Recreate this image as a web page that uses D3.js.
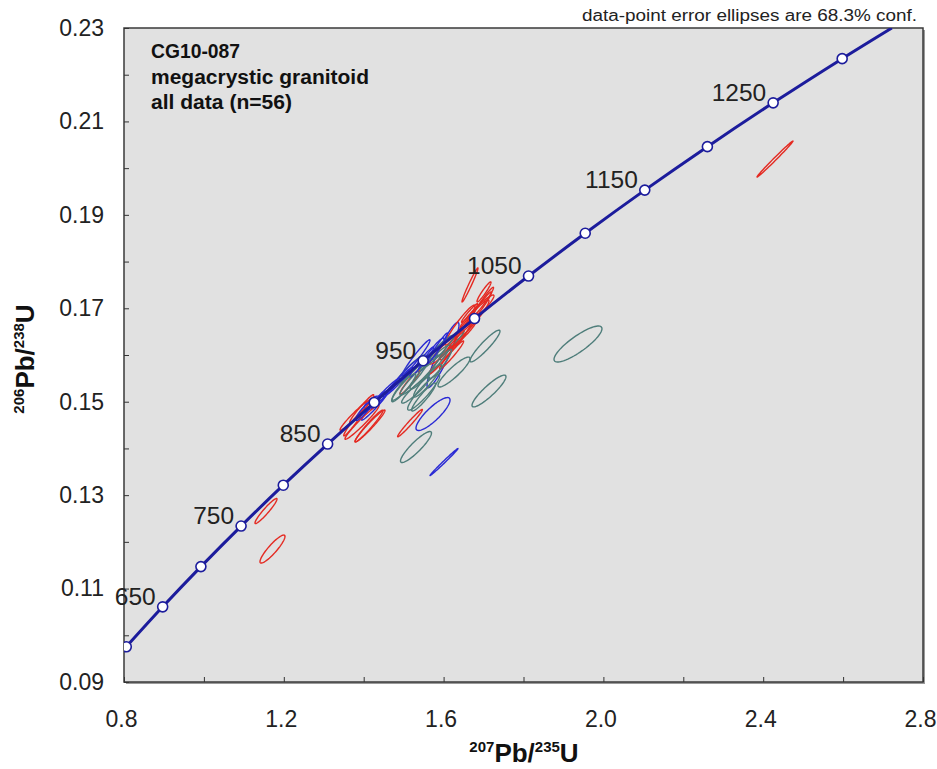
<!DOCTYPE html>
<html><head><meta charset="utf-8">
<script src="https://cdn.jsdelivr.net/npm/d3@7"></script>
<style>
body{margin:0;background:#fff;}
svg{display:block;}
</style></head>
<body>
<svg id="chart" width="937" height="769"></svg>
<script>
// ---------- data ----------
const xTickValues = [0.8,1.0,1.2,1.4,1.6,1.8,2.0,2.2,2.4,2.6,2.8];
const xTickLabels = ["0.8","1.2","1.6","2.0","2.4","2.8"];
const yTickValues = [0.09,0.10,0.11,0.12,0.13,0.14,0.15,0.16,0.17,0.18,0.19,0.20,0.21,0.22,0.23];
const yTickLabels = ["0.09","0.11","0.13","0.15","0.17","0.19","0.21","0.23"];

// concordia age markers (Ma) and their positions
const markerAge = [600,650,700,750,800,850,900,950,1000,1050,1100,1150,1200,1250,1300];
const markerX = [0.8057,0.8968,0.9925,1.0931,1.1987,1.3097,1.4263,1.5488,1.6774,1.8126,1.9545,2.1036,2.2603,2.4249,2.5977];
const markerY = [0.09754,0.10609,0.11470,0.12338,0.13213,0.14094,0.14983,0.15878,0.16780,0.17690,0.18606,0.19530,0.20460,0.21398,0.22344];
const labelAges = [650,750,850,950,1050,1150,1250];
// concordia continues to the top frame
const curveEndX = 2.722, curveEndY = 0.23;

// error ellipses (n=56): group (r = red, b = blue, t = teal), centre, half-widths, correlation
const ellGroup = ["r","t","t","b","t","b","r","t","t","r","r","r",
  "b","b","b","b","b","b",
  "r","r","r","r","r","r","r","r","r","r","r",
  "t","t","t","t","t","t","t",
  "r","r","r","r","r","r",
  "b","b","b","b","b",
  "t","t","t","t",
  "r","r","b","t","r"];
const ellX  = [2.4295,1.9364,1.7136,1.6010,1.5309,1.5735,1.5159,1.6260,1.7036,1.1554,1.1717,1.4133,
  1.4208,1.4258,1.4859,1.5309,1.5685,1.5985,
  1.6661,1.7011,1.6410,1.6711,1.6285,1.6085,1.6836,1.3957,1.4158,1.3782,1.5159,
  1.5159,1.5409,1.5660,1.5159,1.5835,1.6085,1.5500,
  1.6550,1.6900,1.6450,1.7000,1.6200,1.5950,
  1.4550,1.5100,1.5450,1.5850,1.4400,
  1.5600,1.5900,1.5000,1.5300,
  1.3950,1.3750,1.4000,1.5500,1.6650];
const ellY  = [0.20195,0.16235,0.15229,0.13709,0.14030,0.14736,0.14543,0.15635,0.16192,0.12660,0.11846,0.14480,
  0.14970,0.14890,0.15420,0.15940,0.16000,0.16000,
  0.17500,0.17350,0.16640,0.16750,0.16280,0.16170,0.16920,0.14560,0.14480,0.14710,0.15420,
  0.15460,0.15570,0.15740,0.15680,0.16060,0.16210,0.15200,
  0.16550,0.17000,0.16400,0.17150,0.16000,0.15900,
  0.15200,0.15650,0.15850,0.16150,0.15050,
  0.15450,0.15800,0.15300,0.15250,
  0.14850,0.14550,0.14800,0.15100,0.16900];
const ellDX = [0.0450,0.0600,0.0425,0.0350,0.0388,0.0426,0.0310,0.0400,0.0375,0.0275,0.0313,0.0350,
  0.0200,0.0313,0.0375,0.0350,0.0325,0.0400,
  0.0200,0.0175,0.0375,0.0425,0.0375,0.0425,0.0425,0.0425,0.0375,0.0375,0.0250,
  0.0450,0.0500,0.0500,0.0375,0.0425,0.0425,0.0400,
  0.0300,0.0300,0.0350,0.0250,0.0300,0.0300,
  0.0350,0.0350,0.0300,0.0250,0.0200,
  0.0350,0.0300,0.0300,0.0350,
  0.0300,0.0250,0.0200,0.0300,0.0200];
const ellDY = [0.00385,0.00385,0.00340,0.00289,0.00332,0.00353,0.00293,0.00320,0.00340,0.00268,0.00300,0.00340,
  0.00150,0.00285,0.00320,0.00385,0.00364,0.00700,
  0.00364,0.00214,0.00428,0.00428,0.00385,0.00364,0.00364,0.00364,0.00342,0.00320,0.00257,
  0.00428,0.00428,0.00471,0.00320,0.00364,0.00320,0.00380,
  0.00350,0.00350,0.00300,0.00300,0.00300,0.00300,
  0.00300,0.00300,0.00320,0.00320,0.00180,
  0.00350,0.00320,0.00300,0.00280,
  0.00300,0.00280,0.00200,0.00300,0.00200];
const ellRho = [0.995,0.85,0.90,0.995,0.90,0.85,0.98,0.90,0.93,0.95,0.90,0.97,
  0.70,0.97,0.98,0.97,0.95,0.92,
  0.98,0.95,0.95,0.95,0.95,0.95,0.95,0.97,0.97,0.97,0.95,
  0.95,0.95,0.95,0.95,0.95,0.95,0.92,
  0.97,0.97,0.97,0.97,0.97,0.97,
  0.97,0.97,0.97,0.97,0.90,
  0.93,0.93,0.93,0.93,
  0.97,0.97,0.90,0.93,0.97];

// ---------- drawing ----------
const svg = d3.select("#chart");
const L = 124, R = 923, T = 28, B = 682;
const x = d3.scaleLinear().domain([0.8,2.8]).range([L,R]);
const y = d3.scaleLinear().domain([0.09,0.23]).range([B,T]);
const colors = {r:"#e42a22", b:"#2a2ad4", t:"#4e7d7a"};
const curveColor = "#1c1c9c";
const FONT = "Liberation Sans, Arial, sans-serif";

// frame shadow + background
svg.append("rect").attr("x",L+2).attr("y",T+2).attr("width",R-L).attr("height",B-T).attr("fill","#9a9a9a");
svg.append("rect").attr("x",L).attr("y",T).attr("width",R-L).attr("height",B-T)
  .attr("fill","#e1e1e1").attr("stroke","#3a3a3a").attr("stroke-width",1.5);

svg.append("defs").append("clipPath").attr("id","clip")
  .append("rect").attr("x",L).attr("y",T).attr("width",R-L).attr("height",B-T);

// axes (ticks inside)
const xAxis = d3.axisBottom(x).tickValues(xTickValues).tickSizeInner(-5).tickSizeOuter(0)
  .tickFormat(d => xTickLabels.includes(d.toFixed(1)) ? d.toFixed(1) : "");
const gx = svg.append("g").attr("transform",`translate(0,${B})`).call(xAxis);
gx.select(".domain").remove();
gx.selectAll(".tick line").attr("stroke","#333");
gx.selectAll(".tick text").attr("dy",0).attr("y",45).attr("x",-3).attr("font-size",23)
  .attr("font-family",FONT).attr("fill","#222");

const yAxis = d3.axisLeft(y).tickValues(yTickValues).tickSizeInner(-5).tickSizeOuter(0)
  .tickFormat(d => yTickLabels.includes(d.toFixed(2)) ? d.toFixed(2) : "");
const gy = svg.append("g").attr("transform",`translate(${L},0)`).call(yAxis);
gy.select(".domain").remove();
gy.selectAll(".tick line").attr("stroke","#333");
gy.selectAll(".tick text").attr("x",-20).attr("font-size",23)
  .attr("font-family",FONT).attr("fill","#222");

const plot = svg.append("g").attr("clip-path","url(#clip)");

// ellipses
function ellipsePts(i){
  const pts = [];
  const s = Math.sqrt(1 - ellRho[i]*ellRho[i]);
  for (let k=0;k<=72;k++){
    const th = k/72*2*Math.PI;
    const ex = ellX[i] + ellDX[i]*Math.cos(th);
    const ey = ellY[i] + ellDY[i]*(ellRho[i]*Math.cos(th) + s*Math.sin(th));
    pts.push([x(ex), y(ey)]);
  }
  return pts;
}
const line = d3.line();
plot.selectAll("path.ell").data(d3.range(ellX.length)).join("path")
  .attr("class","ell")
  .attr("d", i => line(ellipsePts(i)) + "Z")
  .attr("fill","none")
  .attr("stroke", i => colors[ellGroup[i]])
  .attr("stroke-width",1.4);

// concordia curve
const cx = markerX.concat([curveEndX]);
const cy = markerY.concat([curveEndY]);
const cLine = d3.line().x(d=>x(d[0])).y(d=>y(d[1])).curve(d3.curveCatmullRom);
plot.append("path").attr("d", cLine(cx.map((v,i)=>[v,cy[i]])))
  .attr("fill","none").attr("stroke",curveColor).attr("stroke-width",3);

plot.selectAll("circle.mk").data(markerAge).join("circle")
  .attr("class","mk")
  .attr("cx",(d,i)=>x(markerX[i])).attr("cy",(d,i)=>y(markerY[i])).attr("r",5)
  .attr("fill","#fff").attr("stroke",curveColor).attr("stroke-width",1.6);

// age labels
svg.selectAll("text.age").data(labelAges).join("text")
  .attr("class","age")
  .attr("x", d => x(markerX[markerAge.indexOf(d)]) - 7)
  .attr("y", d => y(markerY[markerAge.indexOf(d)]) - 2)
  .attr("text-anchor","end")
  .attr("font-family",FONT)
  .attr("font-size",24.5).attr("fill","#222")
  .text(d => d);

// annotations
svg.append("text").attr("x",917).attr("y",21).attr("text-anchor","end")
  .attr("font-family",FONT)
  .attr("font-size",16).attr("fill","#222")
  .attr("textLength",335).attr("lengthAdjust","spacingAndGlyphs")
  .text("data-point error ellipses are 68.3% conf.");

const info = ["CG10-087","megacrystic granitoid","all data (n=56)"];
const infoW = [89,218,141];
svg.selectAll("text.info").data(info).join("text")
  .attr("class","info")
  .attr("x",151).attr("y",(d,i)=>[58,84,109][i])
  .attr("font-family",FONT)
  .attr("font-weight","bold").attr("font-size",20).attr("fill","#111")
  .attr("textLength",(d,i)=>infoW[i]).attr("lengthAdjust","spacingAndGlyphs")
  .text(d=>d);

// axis titles
const xt = svg.append("text").attr("x",524).attr("y",762).attr("text-anchor","middle")
  .attr("font-family",FONT)
  .attr("font-weight","bold").attr("font-size",26).attr("fill","#111");
xt.append("tspan").attr("font-size",15).attr("dy",-10).text("207");
xt.append("tspan").attr("dy",10).text("Pb/");
xt.append("tspan").attr("font-size",15).attr("dy",-10).text("235");
xt.append("tspan").attr("dy",10).text("U");

const yt = svg.append("text").attr("transform","translate(34,359) rotate(-90)").attr("text-anchor","middle")
  .attr("font-family",FONT)
  .attr("font-weight","bold").attr("font-size",26).attr("fill","#111");
yt.append("tspan").attr("font-size",15).attr("dy",-10).text("206");
yt.append("tspan").attr("dy",10).text("Pb/");
yt.append("tspan").attr("font-size",15).attr("dy",-10).text("238");
yt.append("tspan").attr("dy",10).text("U");
</script>
</body></html>
